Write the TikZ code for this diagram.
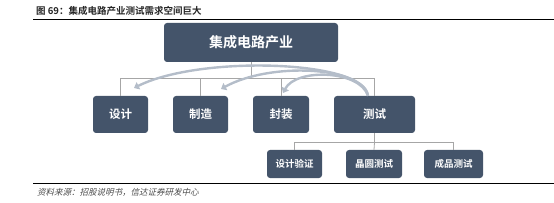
\documentclass[tikz,border=0pt]{standalone}
\usepackage{fontspec}
\setmainfont{Noto Sans CJK SC}
\newfontfamily\cjkb{Noto Sans CJK SC Bold}
\newfontfamily\cjkit[FakeSlant=0.25]{Noto Sans CJK SC}
\usetikzlibrary{arrows.meta}
\definecolor{boxblue}{HTML}{44546A}
\definecolor{treegray}{HTML}{A6A6A6}
\definecolor{arrowgray}{HTML}{B4BDC9}
\tikzset{
  box/.style={fill=boxblue, rounded corners=3pt, text=white, inner sep=0pt, font=\cjkb},
  tree/.style={draw=treegray, line width=0.8pt},
  flow/.style={draw=arrowgray, line width=2.4pt, -{Triangle[width=8pt,length=5pt]}},
}
\begin{document}
\begin{tikzpicture}[x=1pt,y=-1pt]
\useasboundingbox (0,0) rectangle (554,203);
% title and rules
\node[anchor=west, inner sep=0pt, font=\cjkb\fontsize{9.5}{11}\selectfont, text=black!85] (title) at (36,11) {图 69：集成电路产业测试需求空间巨大};
\draw[line width=0.9pt] (33,19.5) -- (554,19.5);
\draw[line width=0.9pt] (33,183) -- (554,183);
\node[anchor=west, inner sep=0pt, font=\cjkit\fontsize{8.5}{10}\selectfont, text=black!70] (src) at (37,192) {资料来源：招股说明书，信达证券研发中心};
% boxes
\node[box, minimum width=174pt, minimum height=39pt, font=\cjkb\fontsize{14}{16}\selectfont] (top) at (251,42.5) {集成电路产业};
\node[box, minimum width=55pt, minimum height=37pt, font=\cjkb\fontsize{11.5}{13}\selectfont] (sj) at (120.5,114.5) {设计};
\node[box, minimum width=55pt, minimum height=37pt, font=\cjkb\fontsize{11.5}{13}\selectfont] (zz) at (200.5,114.5) {制造};
\node[box, minimum width=56pt, minimum height=37pt, font=\cjkb\fontsize{11.5}{13}\selectfont] (fz) at (281,114.5) {封装};
\node[box, minimum width=81pt, minimum height=37pt, font=\cjkb\fontsize{11.5}{13}\selectfont] (cs) at (374.5,114.5) {测试};
\node[box, minimum width=55pt, minimum height=28pt, font=\cjkb\fontsize{9.5}{11}\selectfont] (yz) at (294.5,164) {设计验证};
\node[box, minimum width=56pt, minimum height=28pt, font=\cjkb\fontsize{9.5}{11}\selectfont] (jy) at (374,164) {晶圆测试};
\node[box, minimum width=59pt, minimum height=28pt, font=\cjkb\fontsize{9.5}{11}\selectfont] (cp) at (453.5,164) {成品测试};
% tree connectors
\draw[tree] (top.south) -- ++(0,16.5) coordinate (hub);
\draw[tree] (sj.north) |- (hub) -| (cs.north);
\draw[tree] (zz.north) -- (zz.north |- hub);
\draw[tree] (fz.north) -- (fz.north |- hub);
\draw[tree] (cs.south) -- ++(0,9) coordinate (hub2);
\draw[tree] (yz.north) |- (hub2) -| (cp.north);
\draw[tree] (jy.north) -- (hub2);
% flow arrows
\coordinate (st) at ([xshift=-6.5pt]cs.north);
\coordinate (e1) at (134,88);
\coordinate (e2) at (221,89);
\coordinate (e3) at (283,93);
\draw[flow] (st) .. controls (365,60) and (200,55) .. (e1);
\draw[flow] (st) .. controls (362,66) and (270,62) .. (e2);
\draw[flow] (st) .. controls (360,70) and (296,68) .. (e3);
\end{tikzpicture}
\end{document}
